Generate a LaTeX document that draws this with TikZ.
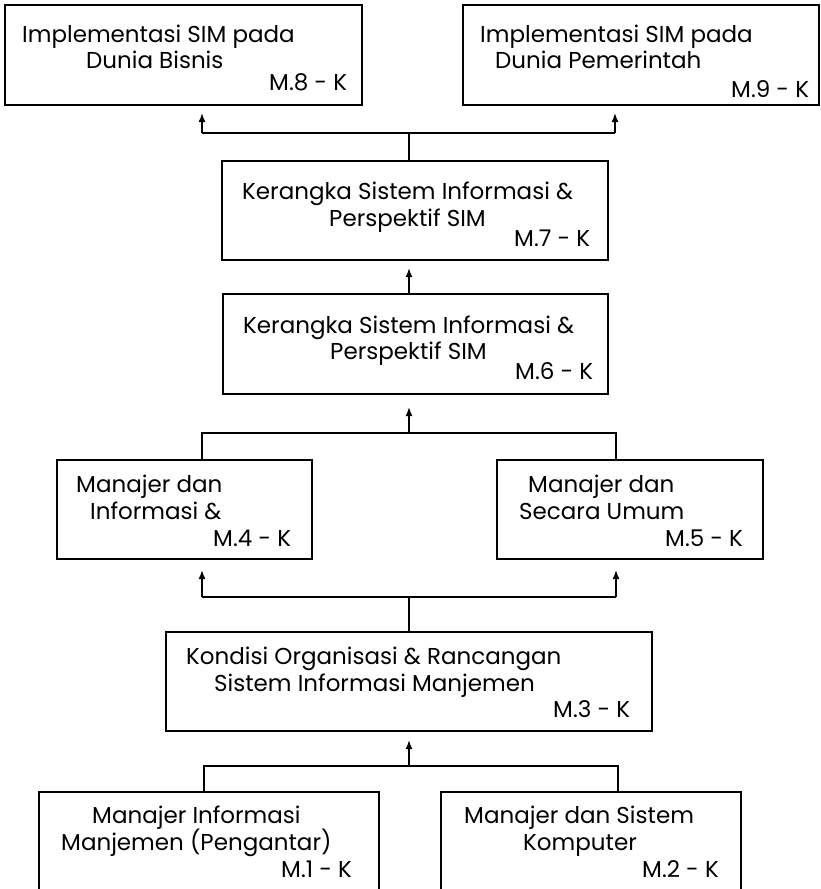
\documentclass[tikz,border=0pt]{standalone}
\usepackage{fontspec}
\setmainfont{Poppins}
\usetikzlibrary{arrows.meta}
\begin{document}
\begin{tikzpicture}[x=1pt,y=-1pt,
  box/.style={draw, line width=1.6pt, inner sep=0pt, outer sep=0pt},
  txt/.style={anchor=base west, inner sep=0pt, font=\fontsize{23}{27}\selectfont},
  conn/.style={line width=1.6pt},
  arr/.style={line width=1.6pt, -{Latex[length=9pt,width=7pt]}, shorten >=8pt}]
\useasboundingbox[fill=white] (0,0) rectangle (820,889);

% boxes
\node[box, minimum width=357pt, minimum height=100pt] (m8) at (183.5,55) {};
\node[box, minimum width=356pt, minimum height=100pt] (m9) at (641,55) {};
\node[box, minimum width=386pt, minimum height=99pt] (m7) at (415,210.5) {};
\node[box, minimum width=385pt, minimum height=100pt] (m6) at (415.5,344) {};
\node[box, minimum width=255pt, minimum height=99pt] (m4) at (184.5,509.5) {};
\node[box, minimum width=266pt, minimum height=99pt] (m5) at (630,509.5) {};
\node[box, minimum width=486pt, minimum height=99pt] (m3) at (409,681.5) {};
\node[box, minimum width=340pt, minimum height=108pt] (m1) at (209,846) {};
\node[box, minimum width=300pt, minimum height=108pt] (m2) at (591,846) {};

% texts
\node[txt] (t8a) at (22,42) {Implementasi SIM pada};
\node[txt] (t8b) at (86,68) {Dunia Bisnis};
\node[txt] (t8c) at (269,90) {M.8 - K};
\node[txt] (t9a) at (480,42) {Implementasi SIM pada};
\node[txt] (t9b) at (495,68) {Dunia Pemerintah};
\node[txt] (t9c) at (731,97) {M.9 - K};
\node[txt] (t7a) at (242,199) {Kerangka Sistem Informasi \&};
\node[txt] (t7b) at (329,226) {Perspektif SIM};
\node[txt] (t7c) at (514,246) {M.7 - K};
\node[txt] (t6a) at (243,333) {Kerangka Sistem Informasi \&};
\node[txt] (t6b) at (330,359) {Perspektif SIM};
\node[txt] (t6c) at (515,379) {M.6 - K};
\node[txt] (t4a) at (76,492) {Manajer dan};
\node[txt] (t4b) at (90,519) {Informasi \&};
\node[txt] (t4c) at (213,546) {M.4 - K};
\node[txt] (t5a) at (528,492) {Manajer dan};
\node[txt] (t5b) at (519,519) {Secara Umum};
\node[txt] (t5c) at (665,546) {M.5 - K};
\node[txt] (t3a) at (186,664) {Kondisi Organisasi \& Rancangan};
\node[txt] (t3b) at (214,691) {Sistem Informasi Manjemen};
\node[txt] (t3c) at (553,717) {M.3 - K};
\node[txt] (t1a) at (92,823) {Manajer Informasi};
\node[txt] (t1b) at (61,850) {Manjemen (Pengantar)};
\node[txt] (t1c) at (281,877) {M.1 - K};
\node[txt] (t2a) at (464,823) {Manajer dan Sistem};
\node[txt] (t2b) at (523,850) {Komputer};
\node[txt] (t2c) at (642,877) {M.2 - K};

% junction coordinates
\coordinate (j7) at (409,133);
\coordinate (j7l) at (202,133);
\coordinate (j7r) at (615,133);
\coordinate (s6) at (409,294);
\coordinate (j4) at (409,433);
\coordinate (j4l) at (202,433);
\coordinate (j4r) at (616,433);
\coordinate (j3) at (409,597);
\coordinate (j3l) at (202,597);
\coordinate (j3r) at (616,597);
\coordinate (j1) at (409,766);
\coordinate (j1l) at (204,766);
\coordinate (j1r) at (618,766);

% M7 -> M8, M9
\draw[conn] (m7.north -| j7) -- (j7);
\draw[conn] (j7l) -- (j7r);
\draw[arr] (j7l) -- (j7l |- m8.south);
\draw[arr] (j7r) -- (j7r |- m9.south);
% M6 -> M7
\draw[arr] (m6.north -| s6) -- (s6 |- m7.south);
% M4, M5 -> M6
\draw[conn] (m4.north -| j4l) -- (j4l) -- (j4r) -- (m5.north -| j4r);
\draw[arr, shorten >=13pt] (j4) -- (j4 |- m6.south);
% M3 -> M4, M5
\draw[conn] (m3.north -| j3) -- (j3);
\draw[conn] (j3l) -- (j3r);
\draw[arr, shorten >=11pt] (j3l) -- (j3l |- m4.south);
\draw[arr, shorten >=11pt] (j3r) -- (j3r |- m5.south);
% M1, M2 -> M3
\draw[conn] (m1.north -| j1l) -- (j1l) -- (j1r) -- (m2.north -| j1r);
\draw[arr, shorten >=9pt] (j1) -- (j1 |- m3.south);
\end{tikzpicture}
\end{document}
